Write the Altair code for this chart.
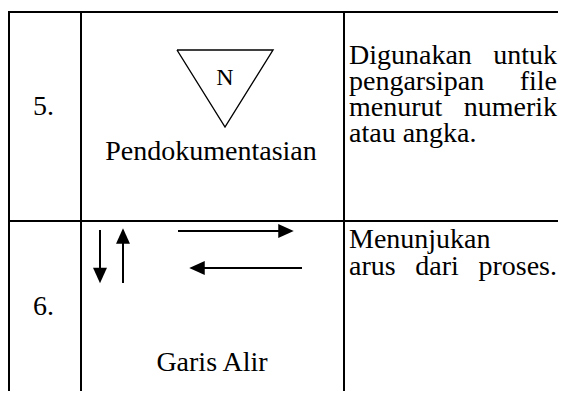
import altair as alt
import pandas as pd

# ---------------- data (table content) ----------------
row_numbers = ["5.", "6."]
symbol_names = ["Pendokumentasian", "Garis Alir"]
triangle_label = ["N"]
desc_row5 = ["Digunakan untuk", "pengarsipan file", "menurut numerik", "atau angka."]
desc_row6 = ["Menunjukan", "arus dari proses."]
justified_row5 = [True, True, True, False]
justified_row6 = [False, True]
arrow_dirs = ["down", "up", "right", "left"]

# ---------------- layout (page pixel coordinates) ----------------
FONT = "'Liberation Serif', 'Times New Roman', 'DejaVu Serif', serif"
FS = 28
X0, X1, Y0, Y1 = 8, 558, 8, 391          # visible page region (inside 8px body margin)
col_x = [9, 81, 344]
row_y = [12, 221]
BOTTOM = 420
RIGHT = 600
num_x = 43.5
num_base = [115, 315]
sym_x = [211, 212]
sym_base = [160, 371]
desc_left, desc_right = 349, 557
desc_base5 = [64, 90, 116, 142]
desc_base6 = [248, 275]

tri = [(177, 50), (273, 50), (225, 127), (177, 50)]
n_pos = (225, 85)

shafts = {
    "down": (100, 230, 100, 270),
    "up": (123, 283, 123, 242),
    "right": (178, 231, 281, 231),
    "left": (302, 268, 202, 268),
}
heads = {
    "down": (100, 275.5, 90),
    "up": (123, 236, 270),
    "right": (286, 231, 0),
    "left": (197, 268, 180),
}

# Times-compatible advance widths (per 1000 em) used for justifying lines
ADV = dict(a=444, b=500, c=444, d=500, e=444, f=333, g=500, h=500, i=278, j=278, k=500,
           l=278, m=778, n=500, o=500, p=500, q=500, r=333, s=389, t=278, u=500, v=500,
           w=722, x=500, y=500, z=444)
ADV.update({".": 250, " ": 250, "D": 722, "M": 889})


def word_width(w):
    return sum(ADV.get(c, 500) for c in w) * FS / 1000.0


xs = alt.Scale(domain=[X0, X1])
ys = alt.Scale(domain=[Y0, Y1], reverse=True)

grid = pd.DataFrame(
    [dict(x=col_x[0], x2=RIGHT, y=r, y2=r) for r in row_y]
    + [dict(x=c, x2=c, y=row_y[0], y2=BOTTOM) for c in col_x]
)
grid_layer = alt.Chart(grid).mark_rule(color="black", strokeWidth=2, strokeCap="square").encode(
    x=alt.X("x:Q", scale=xs, axis=None), x2="x2:Q",
    y=alt.Y("y:Q", scale=ys, axis=None), y2="y2:Q",
)

tri_df = pd.DataFrame([dict(x=p[0], y=p[1], o=i) for i, p in enumerate(tri)])
tri_layer = alt.Chart(tri_df).mark_line(color="black", strokeWidth=1.4, strokeJoin="miter").encode(
    x=alt.X("x:Q", scale=xs, axis=None),
    y=alt.Y("y:Q", scale=ys, axis=None),
    order="o:Q",
)

n_layer = alt.Chart(pd.DataFrame(dict(t=triangle_label, x=[n_pos[0]], y=[n_pos[1]]))).mark_text(
    font=FONT, fontSize=24, baseline="alphabetic", align="center", color="black"
).encode(x=alt.X("x:Q", scale=xs, axis=None), y=alt.Y("y:Q", scale=ys, axis=None), text="t:N")

shaft_df = pd.DataFrame([dict(d=d, x=shafts[d][0], y=shafts[d][1], x2=shafts[d][2], y2=shafts[d][3]) for d in arrow_dirs])
shaft_layer = alt.Chart(shaft_df).mark_rule(color="black", strokeWidth=2).encode(
    x=alt.X("x:Q", scale=xs, axis=None), x2="x2:Q",
    y=alt.Y("y:Q", scale=ys, axis=None), y2="y2:Q",
)
head_df = pd.DataFrame([dict(d=d, x=heads[d][0], y=heads[d][1], a=heads[d][2]) for d in arrow_dirs])
head_layer = alt.Chart(head_df).mark_point(
    shape="M-1,-0.9L1,0L-1,0.9Z", filled=True, color="black", opacity=1, size=240, strokeWidth=0
).encode(
    x=alt.X("x:Q", scale=xs, axis=None),
    y=alt.Y("y:Q", scale=ys, axis=None),
    angle=alt.Angle("a:Q", scale=None),
)

texts = []
for t, b in zip(row_numbers, num_base):
    texts.append(dict(t=t, x=num_x, y=b, al="center"))
for t, x, b in zip(symbol_names, sym_x, sym_base):
    texts.append(dict(t=t, x=x, y=b, al="center"))
for lines, just, bases in [(desc_row5, justified_row5, desc_base5), (desc_row6, justified_row6, desc_base6)]:
    for line, j, b in zip(lines, just, bases):
        words = line.split(" ")
        if j and len(words) > 1:
            widths = [word_width(w) for w in words]
            gap = (desc_right - desc_left - sum(widths)) / (len(words) - 1)
            x = desc_left
            for w, wd in zip(words, widths):
                texts.append(dict(t=w, x=x, y=b, al="left"))
                x += wd + gap
        else:
            texts.append(dict(t=line, x=desc_left, y=b, al="left"))
tdf = pd.DataFrame(texts)


def text_layer(al):
    return alt.Chart(tdf[tdf.al == al]).mark_text(
        font=FONT, fontSize=FS, baseline="alphabetic", align=al, color="black"
    ).encode(x=alt.X("x:Q", scale=xs, axis=None), y=alt.Y("y:Q", scale=ys, axis=None), text="t:N")


chart = alt.layer(
    grid_layer, tri_layer, n_layer, shaft_layer, head_layer,
    text_layer("left"), text_layer("center"),
).properties(
    width=X1 - X0, height=Y1 - Y0, padding=0, autosize=alt.AutoSizeParams(type="none"),
    background="white",
).configure_view(strokeWidth=0)

chart.save("out.html", embed_options={"renderer": "svg", "actions": False})
